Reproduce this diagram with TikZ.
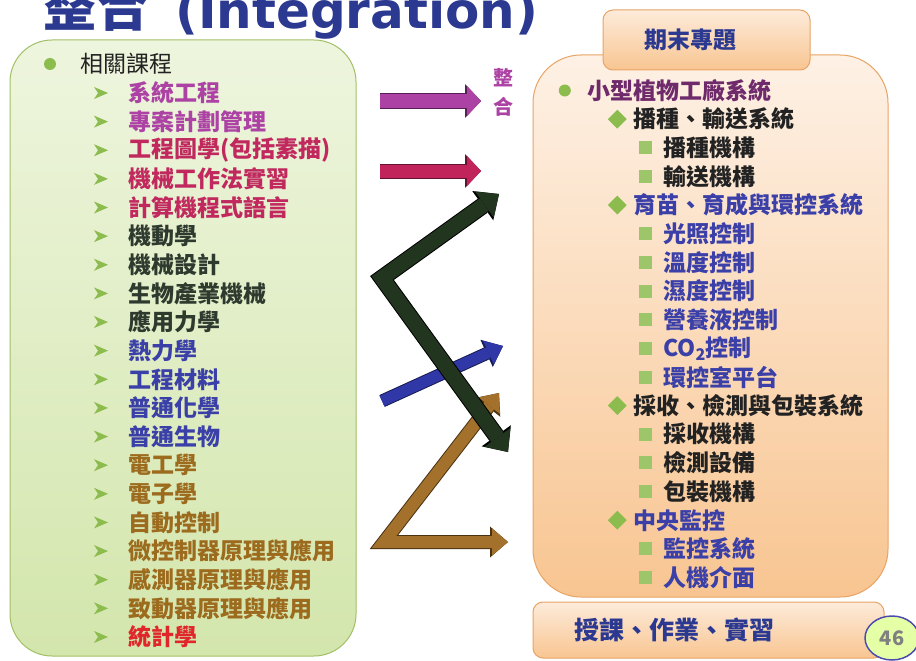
\documentclass[tikz,border=0pt]{standalone}
\usepackage{fontspec}
\setmainfont{Noto Sans CJK TC}
\newfontfamily\latinfont{DejaVu Sans}
\usetikzlibrary{arrows.meta,shapes.geometric}

\definecolor{titleblue}{HTML}{2B3990}
\definecolor{bulletgreen}{HTML}{8CBB4E}
\definecolor{cpurple}{HTML}{AC42A4}
\definecolor{cred}{HTML}{C0285E}
\definecolor{cdark}{HTML}{2F3A2F}
\definecolor{cblue}{HTML}{3B3FA8}
\definecolor{cbrown}{HTML}{9C6B1E}
\definecolor{cstat}{HTML}{E0262B}
\definecolor{rpurple}{HTML}{6E2A6A}
\definecolor{rdark}{HTML}{222222}
\definecolor{greenedge}{HTML}{A3C067}
\definecolor{greentop}{HTML}{EEF5DE}
\definecolor{greenbottom}{HTML}{D3E6AC}
\definecolor{peachedge}{HTML}{E8A464}
\definecolor{peachtop}{HTML}{FDEBDA}
\definecolor{peachbottom}{HTML}{F8C591}
\definecolor{arrowbrown}{HTML}{A3712B}
\definecolor{arrowblue}{HTML}{3038A8}
\definecolor{arrowgreen}{HTML}{22351F}

\newcommand\itemfont{\fontsize{23}{26}\selectfont\bfseries}

\tikzset{
  course/.style={anchor=west, inner sep=0pt, font=\itemfont},
  sysitem/.style={anchor=west, inner sep=0pt, font=\itemfont,
    label={[circle, fill=bulletgreen, minimum size=12pt, inner sep=0pt, label distance=16pt]left:{}}},
  partitem/.style={anchor=west, inner sep=0pt, font=\itemfont,
    label={[diamond, fill=bulletgreen, minimum size=19pt, inner sep=0pt, label distance=6pt]left:{}}},
  unititem/.style={anchor=west, inner sep=0pt, font=\itemfont,
    label={[fill=bulletgreen!85, minimum size=13pt, inner sep=0pt, label distance=11pt]left:{}}},
  panel/.style={rounded corners=10pt, draw=peachedge, line width=1pt, top color=peachtop, bottom color=peachbottom},
}

\begin{document}
\begin{tikzpicture}[x=1pt, y=-1pt]
  \useasboundingbox[fill=white] (0,0) rectangle (916,661);

  % Title
  \node[anchor=base west, inner sep=0pt, text=titleblue, font=\fontsize{53}{53}\selectfont\bfseries] (title) at (43,27) {整合};
  \node[anchor=base west, inner sep=0pt, text=titleblue, font=\latinfont\fontsize{50}{50}\selectfont\bfseries] (titleen) at (175,29) {(Integration)};

  % Courses panel
  \draw[rounded corners=42pt, draw=greenedge, line width=1pt, top color=greentop, bottom color=greenbottom] (10,40) rectangle (356,656);
  \fill[bulletgreen] (50,64) circle (6);
  \node[anchor=west, inner sep=0pt, font=\fontsize{23}{26}\selectfont, text=rdark] (related) at (80,64) {相關課程};
  \foreach \y in {93,121.63,...,640}
    \fill[bulletgreen] (94,\y-6) -- (108,\y) -- (94,\y+6) -- (98,\y) -- cycle;

  \node[course, text=cpurple] (c1) at (128,93) {系統工程};
  \node[course, text=cpurple] (c2) at (128,121.6) {專案計劃管理};
  \node[course, text=cred] (c3) at (128,150.3) {工程圖學(包括素描)};
  \node[course, text=cred] (c4) at (128,178.9) {機械工作法實習};
  \node[course, text=cred] (c5) at (128,207.5) {計算機程式語言};
  \node[course, text=cdark] (c6) at (128,236.2) {機動學};
  \node[course, text=cdark] (c7) at (128,264.8) {機械設計};
  \node[course, text=cdark] (c8) at (128,293.4) {生物產業機械};
  \node[course, text=cdark] (c9) at (128,322) {應用力學};
  \node[course, text=cblue] (c10) at (128,350.7) {熱力學};
  \node[course, text=cblue] (c11) at (128,379.3) {工程材料};
  \node[course, text=cblue] (c12) at (128,407.9) {普通化學};
  \node[course, text=cblue] (c13) at (128,436.6) {普通生物};
  \node[course, text=cbrown] (c14) at (128,465.2) {電工學};
  \node[course, text=cbrown] (c15) at (128,493.8) {電子學};
  \node[course, text=cbrown] (c16) at (128,522.5) {自動控制};
  \node[course, text=cbrown] (c17) at (128,551.1) {微控制器原理與應用};
  \node[course, text=cbrown] (c18) at (128,579.7) {感測器原理與應用};
  \node[course, text=cbrown] (c19) at (128,608.3) {致動器原理與應用};
  \node[course, text=cstat] (c20) at (128,637) {統計學};

  % Project panel
  \draw[panel, rounded corners=48pt, top color=peachtop!70!white] (533,55) rectangle (888,597);
  \node[panel, minimum width=207pt, minimum height=60pt, text=titleblue, font=\itemfont] (project) at (706.5,40) {\hspace*{-32pt}期末專題};
  \node[panel, minimum width=351pt, minimum height=56pt, text=titleblue, font=\fontsize{25}{28}\selectfont\bfseries] (teach) at (708.5,630) {\hspace*{-68pt}授課、作業、實習};
  \node[ellipse, draw=blue!55!black!70, line width=1.5pt, fill=green!30!yellow!35, minimum width=54pt, minimum height=44pt, text=gray, font=\fontsize{20}{20}\selectfont\bfseries] (page) at (892,638) {46};

  \node[sysitem, text=rpurple] (s0) at (587,90.5) {小型植物工廠系統};
  \node[partitem, text=rdark] (p1) at (633,119.2) {播種、輸送系統};
  \node[unititem, text=rdark] (u1) at (663,147.8) {播種機構};
  \node[unititem, text=rdark] (u2) at (663,176.5) {輸送機構};
  \node[partitem, text=cblue] (p2) at (633,205.1) {育苗、育成與環控系統};
  \node[unititem, text=cblue] (u3) at (663,233.8) {光照控制};
  \node[unititem, text=cblue] (u4) at (663,262.4) {溫度控制};
  \node[unititem, text=cblue] (u5) at (663,291) {濕度控制};
  \node[unititem, text=cblue] (u6) at (663,319.7) {營養液控制};
  \node[unititem, text=cblue] (u7) at (663,348.3) {CO\textsubscript{2}控制};
  \node[unititem, text=cblue] (u8) at (663,377) {環控室平台};
  \node[partitem, text=rdark] (p3) at (633,405.6) {採收、檢測與包裝系統};
  \node[unititem, text=rdark] (u9) at (663,434.3) {採收機構};
  \node[unititem, text=rdark] (u10) at (663,462.9) {檢測設備};
  \node[unititem, text=rdark] (u11) at (663,491.5) {包裝機構};
  \node[partitem, text=cblue] (p4) at (633,520.2) {中央監控};
  \node[unititem, text=cblue] (u12) at (663,548.8) {監控系統};
  \node[unititem, text=cblue] (u13) at (663,577.5) {人機介面};

  % Integration arrows
  \node[align=center, inner sep=0pt, text=cpurple, font=\fontsize{20}{29}\selectfont\bfseries] (merge) at (503,92) {整\\合};
  \coordinate (m1) at (380,101);  \coordinate (m2) at (481,101);
  \coordinate (r1) at (380,171);  \coordinate (r2) at (481,171);
  \coordinate (b1) at (382,401);  \coordinate (b2) at (503,346);
  \coordinate (w1) at (499,393);  \coordinate (wc) at (384,542); \coordinate (w2) at (508,542);
  \coordinate (g1) at (499,194);  \coordinate (gc) at (382,278); \coordinate (g2) at (508,452);

  \draw[draw=cpurple, line width=13pt, -{Triangle[length=14pt,width=30pt,line width=0pt]},
    preaction={draw=cpurple!50!black, line width=15pt, -{Triangle[length=16pt,width=34pt,line width=0pt]}}] (m1) -- (m2);
  \draw[draw=cred!90!purple, line width=13pt, -{Triangle[length=14pt,width=30pt,line width=0pt]},
    preaction={draw=cred!50!black, line width=15pt, -{Triangle[length=16pt,width=34pt,line width=0pt]}}] (r1) -- (r2);
  \draw[draw=arrowblue, line width=11pt, -{Triangle[length=16pt,width=26pt,line width=0pt]},
    preaction={draw=arrowblue!50!black, line width=13pt, -{Triangle[length=18pt,width=30pt,line width=0pt]}}] (b1) -- (b2);
  \draw[draw=arrowbrown, line width=12pt, line join=miter, {Triangle[length=16pt,width=27pt,line width=0pt]}-{Triangle[length=16pt,width=27pt,line width=0pt]},
    preaction={draw=arrowbrown!45!black, line width=14pt, {Triangle[length=18pt,width=31pt,line width=0pt]}-{Triangle[length=18pt,width=31pt,line width=0pt]}}] (w1) -- (wc) -- (w2);
  \draw[draw=arrowgreen, line width=15pt, line join=miter, {Triangle[length=18pt,width=32pt,line width=0pt]}-{Triangle[length=18pt,width=32pt,line width=0pt]},
    preaction={draw=black, line width=17pt, {Triangle[length=20pt,width=36pt,line width=0pt]}-{Triangle[length=20pt,width=36pt,line width=0pt]}}] (g1) -- (gc) -- (g2);
\end{tikzpicture}
\end{document}
